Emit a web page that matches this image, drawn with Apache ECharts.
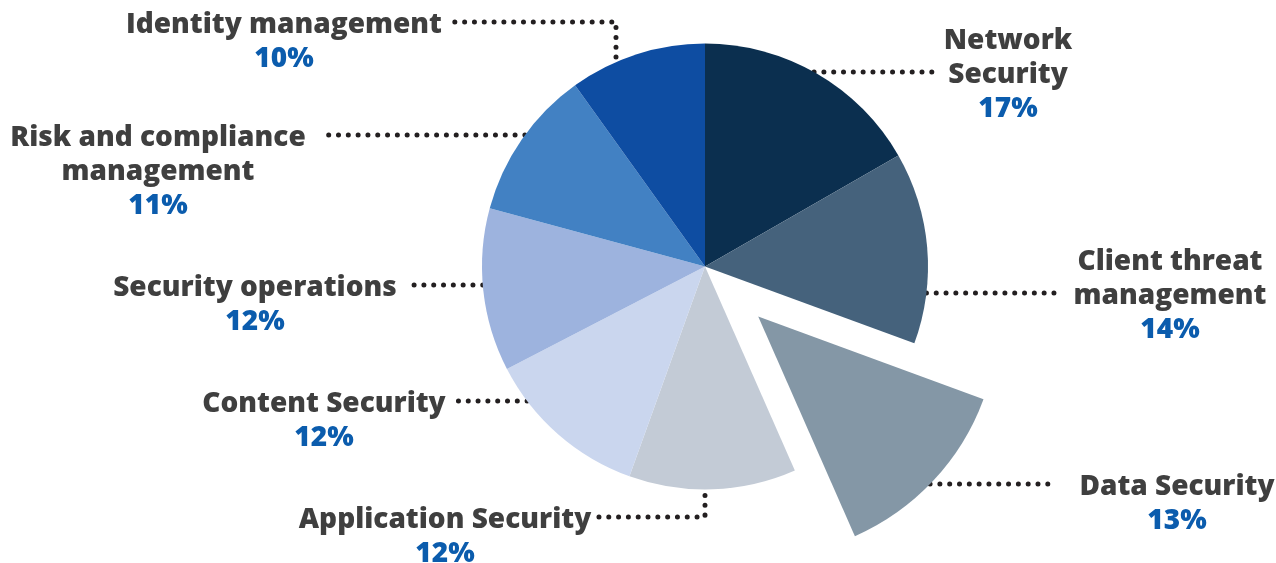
<!DOCTYPE html>
<html><head><meta charset="utf-8">
<script src="https://cdn.jsdelivr.net/npm/echarts@6/dist/echarts.min.js"></script>
<style>html,body{margin:0;padding:0;background:#fff}#c{width:1276px;height:563px}</style>
</head><body><div id="c"></div>
<script>
// ---- data ----
const categories = ['Network\nSecurity', 'Client threat\nmanagement', 'Data Security', 'Application Security',
  'Content Security', 'Security operations', 'Risk and compliance\nmanagement', 'Identity management'];
const shares = [16.7, 13.9, 12.8, 12.1, 11.9, 11.8, 10.9, 9.9];
const explodedIndex = 2;
const colors = ['#0b2f4f', '#45627c', '#8497a6', '#c3cbd6', '#cad6ee', '#9db3de', '#4281c3', '#0e4da2'];

// ---- layout ----
const CX = 705, CY = 266.5, R = 223, R_EXP = 240, OFFSET = 73, LH = 34, TEXT_SHIFT = 3;
const labelPlacement = [
  { cx: 1008, ly: 72, row: 1, gap: 8 },
  { cx: 1170, ly: 293, row: 1, gap: 16 },
  { cx: 1177, ly: 484, row: 0, gap: 22 },
  { cx: 445, ly: 517, row: 0, gap: 6, elbowX: 705 },
  { cx: 324, ly: 401, row: 0, gap: 10 },
  { cx: 255, ly: 285, row: 0, gap: 14 },
  { cx: 158, ly: 135, row: 0, gap: 20 },
  { cx: 284, ly: 22, row: 0, gap: 10, elbowX: 616 }
];

const total = shares.reduce((a, b) => a + b, 0);
const before = shares.slice(0, explodedIndex).reduce((a, b) => a + b, 0);
const midAng = (before + shares[explodedIndex] / 2) / total * 2 * Math.PI;
const EXP_CX = CX + OFFSET * Math.sin(midAng);
const EXP_CY = CY - OFFSET * Math.cos(midAng);

const chart = echarts.init(document.getElementById('c'));

function fmt(p) {
  const lines = p.name.split('\n').map(s => '{n|' + s + '}');
  lines.push('{p|' + Math.round(p.percent) + '%}');
  return lines.join('\n');
}

function layoutFn(params) {
  const i = params.dataIndex;
  const pl = labelPlacement[i];
  if (!pl) return {};
  const cx = i === explodedIndex ? EXP_CX : CX;
  const cy = i === explodedIndex ? EXP_CY : CY;
  const r = i === explodedIndex ? R_EXP : R;
  const side = pl.cx > cx ? 1 : -1;
  const w = params.labelRect.width;
  const endX = pl.cx - side * (w / 2 + pl.gap);
  let pts;
  if (pl.elbowX != null) {
    const ddx = pl.elbowX - cx;
    const off = Math.sqrt(Math.max(r * r - ddx * ddx, 0));
    const edgeY = pl.ly > cy ? cy + off + 6 : cy - off - 5;
    pts = [[pl.elbowX, edgeY], [pl.elbowX, pl.ly], [endX, pl.ly]];
  } else {
    const ddy = pl.ly - cy;
    const edgeX = cx + side * Math.sqrt(Math.max(r * r - ddy * ddy, 0));
    pts = [[edgeX, pl.ly], [(edgeX + endX) / 2, pl.ly], [endX, pl.ly]];
  }
  return {
    x: pl.cx,
    y: pl.ly - (pl.row + 0.5) * LH + TEXT_SHIFT,
    align: 'center',
    verticalAlign: 'top',
    labelLinePoints: pts
  };
}

const labelCfg = {
  show: true,
  position: 'outside',
  formatter: fmt,
  rich: {
    n: { fontFamily: 'Open Sans', fontWeight: 800, fontSize: 28, color: '#3f3f3f', lineHeight: LH, align: 'center' },
    p: { fontFamily: 'Open Sans', fontWeight: 800, fontSize: 28, color: '#0b5cad', lineHeight: LH, align: 'center' }
  }
};
const lineCfg = {
  show: true,
  lineStyle: { color: '#231f20', width: 5, type: [0.01, 9.8], cap: 'round' }
};

function buildData(keepFn) {
  return categories.map((name, i) => {
    const keep = keepFn(i);
    return {
      name: name,
      value: shares[i],
      itemStyle: { color: colors[i], opacity: keep ? 1 : 0 },
      label: { show: keep },
      labelLine: { show: keep }
    };
  });
}

chart.setOption({
  animation: false,
  series: [
    {
      type: 'pie',
      center: [CX, CY],
      radius: [0, R],
      startAngle: 90,
      clockwise: true,
      avoidLabelOverlap: false,
      silent: true,
      emphasis: { disabled: true },
      itemStyle: { borderWidth: 0 },
      label: labelCfg,
      labelLine: lineCfg,
      labelLayout: layoutFn,
      data: buildData(i => i !== explodedIndex)
    },
    {
      type: 'pie',
      center: [EXP_CX, EXP_CY],
      radius: [0, R_EXP],
      startAngle: 90,
      clockwise: true,
      avoidLabelOverlap: false,
      silent: true,
      emphasis: { disabled: true },
      itemStyle: { borderWidth: 0 },
      label: labelCfg,
      labelLine: lineCfg,
      labelLayout: layoutFn,
      data: buildData(i => i === explodedIndex)
    }
  ]
});
</script>
</body></html>
